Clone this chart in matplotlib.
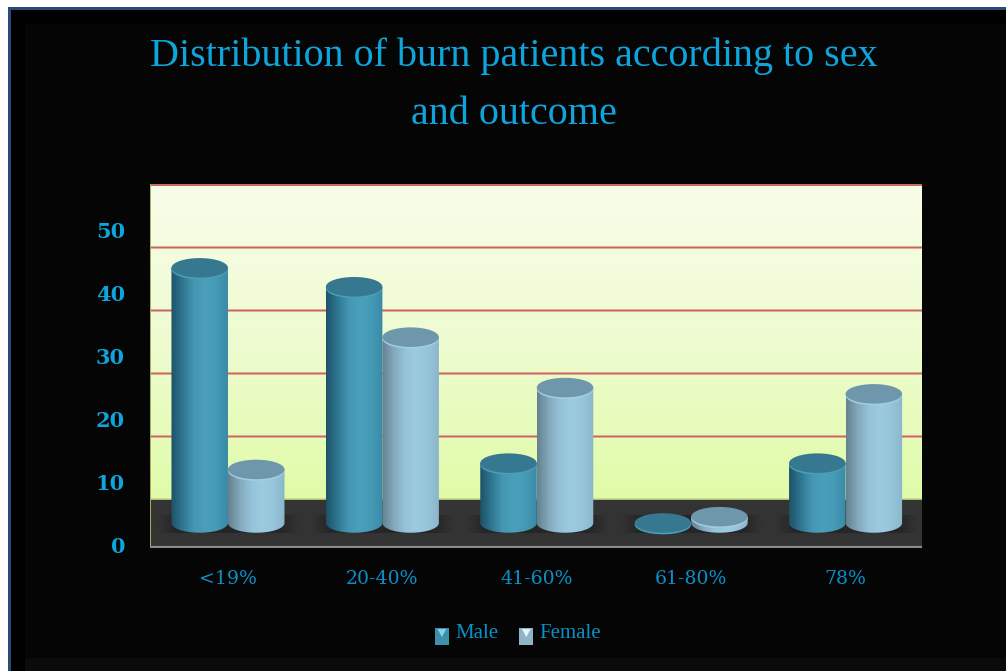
import numpy as np
import matplotlib
matplotlib.use("Agg")
import matplotlib.pyplot as plt
from matplotlib.colors import LinearSegmentedColormap
from matplotlib.legend_handler import HandlerBase
from matplotlib.patches import Ellipse, Patch, Polygon, Rectangle

categories = ["<19%", "20-40%", "41-60%", "61-80%", "78%"]
male = [40.5, 37.5, 9.5, 0, 9.5]
female = [8.5, 29.5, 21.5, 1, 20.5]
y_ticks = [0, 10, 20, 30, 40, 50]
title = "Distribution of burn patients according to sex\nand outcome"

W, H = 1006, 671
BLUE = "#0ea5dc"
LABEL_BLUE = "#0a90c8"

# 3D look: wall, bars and front axis each sit at a different height for value 0
WALL_OFFSET = 3.81
FRONT_OFFSET = -3.49
FLOOR_TOP = WALL_OFFSET
BAR_W = 0.366
CAP_H = 3.1

male_cmap = LinearSegmentedColormap.from_list(
    "male", ["#1d5268", "#2f7690", "#4597b3", "#4a9fbb", "#459ab6", "#3a8aa6"])
female_cmap = LinearSegmentedColormap.from_list(
    "female", ["#64818f", "#82a8bb", "#95c2d8", "#9ccbe0", "#97c6dc", "#8ab6cb"])
wall_cmap = LinearSegmentedColormap.from_list("wall", ["#f8fde9", "#eefbd0", "#e0fca8"])
ramp = np.linspace(0, 1, 128).reshape(1, -1)


def cylinder(ax, x, value, cmap, cap, rim):
    left, right = x - BAR_W / 2, x + BAR_W / 2
    t = np.linspace(np.pi, 2 * np.pi, 60)
    arc = np.column_stack([x + BAR_W / 2 * np.cos(t), CAP_H / 2 * np.sin(t)])
    outline = np.vstack([[[left, value]], arc, [[right, value]]])
    body = Polygon(outline, closed=True, transform=ax.transData, fc="none", ec="none")
    ax.add_patch(body)
    img = ax.imshow(ramp, cmap=cmap, aspect="auto", zorder=4,
                    extent=(left, right, -CAP_H, value + 0.01))
    img.set_clip_path(body)
    ax.add_patch(Ellipse((x, value - 0.25), BAR_W, CAP_H, fc=rim, ec="none", zorder=5))
    ax.add_patch(Ellipse((x, value), BAR_W, CAP_H, fc=cap, ec="none", zorder=5))


class SwatchHandler(HandlerBase):
    def create_artists(self, legend, orig, xd, yd, width, height, fontsize, trans):
        left = -xd + 1.5
        bottom = -yd - 6
        box = Rectangle((left, bottom), width, height + 3, fc=orig.get_facecolor(),
                        ec="none", transform=trans)
        tip = Polygon([(left + 2, bottom + height + 2), (left + width - 2, bottom + height + 2),
                       (left + width / 2, bottom + height / 2 + 1)], closed=True,
                      fc=orig.get_edgecolor(), ec="none", transform=trans)
        return [box, tip]


fig = plt.figure(figsize=(W / 100, H / 100), dpi=100, facecolor="white")

# slide frame behind the chart
bg = fig.add_axes([0, 0, 1, 1], zorder=0)
bg.set_xlim(0, W)
bg.set_ylim(H, 0)
bg.axis("off")
bg.add_patch(Rectangle((8, 7), W, H, fc="#2c4a78", ec="none"))
bg.add_patch(Rectangle((11, 10), W, H, fc="#000000", ec="none"))
bg.add_patch(Rectangle((25, 24), W, H, fc="#050505", ec="none"))
bg.add_patch(Rectangle((25, 658), W, H, fc="#0b0b0b", ec="none"))

ax = fig.add_axes([150 / W, 1 - 548 / H, 772 / W, 364 / H], zorder=1)
ax.set_facecolor("#333333")
x = np.arange(len(categories))
ylim = (-3.97, 53.81)
xlim = (-0.505, 4.495)

ax.imshow(np.linspace(0, 1, 128).reshape(-1, 1), cmap=wall_cmap, aspect="auto", zorder=1,
          extent=(xlim[0], xlim[1], FLOOR_TOP, ylim[1]))
for v in y_ticks[1:5]:
    ax.axhline(v + WALL_OFFSET, color="#e6c0ae", lw=2.2, zorder=2)
    ax.axhline(v + WALL_OFFSET, color="#c8645a", lw=1.0, zorder=2)
ax.axhline(ylim[1] - 0.08, color="#c8645a", lw=1.4, zorder=2)
ax.axhline(FLOOR_TOP, color="#c9d98a", lw=1.2, zorder=2)
ax.axvline(xlim[0] + 0.002, color="#a8b060", lw=1.4, zorder=2)
ax.axhline(ylim[0] + 0.12, color="#8a8a8a", lw=1.6, zorder=3)

# soft shadows on the floor under each pair of bars, fading out at both ends
fade = np.clip(np.minimum(np.linspace(0, 1, 64), np.linspace(1, 0, 64)) * 8, 0, 1)
shadow = np.zeros((1, 64, 4))
shadow[..., :3] = 0.13
shadow[..., 3] = fade * 0.7
for xi in x:
    ax.imshow(shadow, aspect="auto", zorder=2, extent=(xi - 0.46, xi + 0.46, -1.6, 1.1))

for xi, m, f in zip(x, male, female):
    cylinder(ax, xi - BAR_W / 2, m, male_cmap, "#35788f", "#4a9fbb")
    cylinder(ax, xi + BAR_W / 2, f, female_cmap, "#6f97ac", "#a0cfe4")

ax.set_xlim(xlim)
ax.set_ylim(ylim)
ax.set_xticks(x, categories, family="DejaVu Serif", fontsize=13.6, color=LABEL_BLUE)
ax.set_yticks(np.array(y_ticks) + FRONT_OFFSET, y_ticks, family="DejaVu Serif",
              fontweight="bold", fontsize=15, color=BLUE)
ax.tick_params(axis="x", length=0, pad=16)
ax.tick_params(axis="y", length=0, pad=18)
for spine in ax.spines.values():
    spine.set_visible(False)

handles = [Patch(fc="#3f8fab", ec="#7fd4ee", label="Male"),
           Patch(fc="#8fb4c6", ec="#e4f4fa", label="Female")]
ax.legend(handles=handles, handler_map={Patch: SwatchHandler()}, loc="center",
          bbox_to_anchor=(517 / W, 1 - 633 / H), bbox_transform=fig.transFigure, ncol=2,
          frameon=False, labelcolor=LABEL_BLUE, handlelength=0.68, handleheight=0.6,
          handletextpad=0.4, columnspacing=0.9,
          prop={"family": "Liberation Serif", "size": 15})

fig.text(514 / W, 1 - 85 / H, title, ha="center", va="center", color=BLUE,
         family="Liberation Serif", fontsize=28.9, linespacing=1.75, zorder=3)

fig.savefig("out.png", dpi=100, facecolor=fig.get_facecolor())
